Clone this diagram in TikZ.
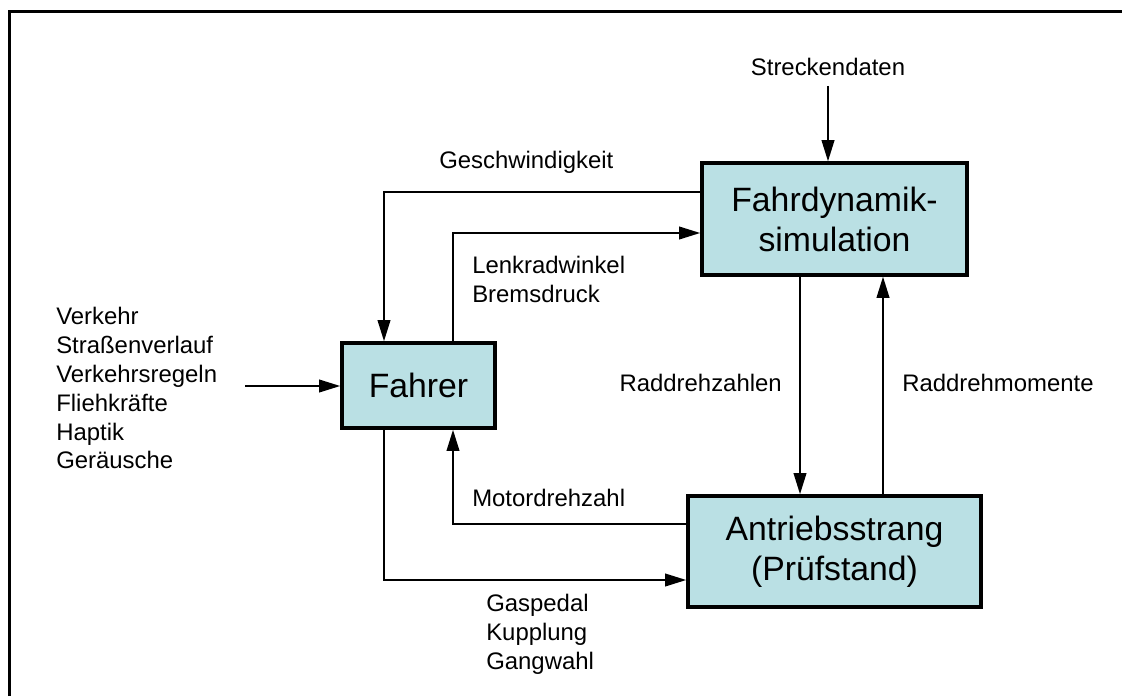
\documentclass[tikz,border=0pt]{standalone}
\usepackage{fontspec}
\setmainfont{Liberation Sans}
\usetikzlibrary{arrows.meta,calc}
\definecolor{boxcyan}{RGB}{186,224,228}
\tikzset{
  blockbox/.style={draw, line width=2.4pt, fill=boxcyan, align=center,
                   font=\fontsize{24}{28.5}\selectfont, inner sep=0pt},
  lbl/.style    ={font=\fontsize{17}{20.6}\selectfont, inner sep=0pt},
  conn/.style   ={line width=1.3pt},
  arr/.style    ={conn, -{Triangle[length=15pt,width=9pt]}},
  frame/.style  ={line width=2pt},
}
\begin{document}
\begin{tikzpicture}[x=0.025cm,y=-0.025cm]
  \useasboundingbox (0,0) rectangle (1122,696);
  \draw[frame] (9.5,696) -- (9.5,11.5) -- (1122,11.5);
  %% blocks
  \node[blockbox, minimum width=6.63cm, minimum height=2.8cm] (fds) at (834.5,219) {Fahrdynamik-\\simulation};
  \node[blockbox, minimum width=3.83cm, minimum height=2.13cm] (fahrer) at (418.5,385.5) {Fahrer};
  \node[blockbox, minimum width=7.33cm, minimum height=2.78cm] (antrieb) at (834.5,551.5) {Antriebsstrang\\(Prüfstand)};
  %% labels
  \node[lbl] (strecke) at (828,67) {Streckendaten};
  \node[lbl, anchor=west] (geschw) at (439,162) {Geschwindigkeit};
  \node[lbl, anchor=west, align=left] (lenk) at (472,279) {Lenkradwinkel\\Bremsdruck};
  \node[lbl, anchor=west, align=left] (umwelt) at (56,388) {Verkehr\\Straßenverlauf\\Verkehrsregeln\\Fliehkräfte\\Haptik\\Geräusche};
  \node[lbl, anchor=east] (drehz) at (782,383) {Raddrehzahlen};
  \node[lbl, anchor=west] (drehm) at (902,383) {Raddrehmomente};
  \node[lbl, anchor=west] (motor) at (472,498) {Motordrehzahl};
  \node[lbl, anchor=west, align=left] (pedal) at (486,634) {Gaspedal\\Kupplung\\Gangwahl};
  \coordinate (ein) at (245,386);
  %% connectors
  \draw[arr] ([yshift=-7pt]strecke.south) -- (strecke.south |- fds.north);
  \draw[arr] (fds.west |- 0,192) -| (fahrer.north -| 384,0);
  \draw[arr] (fahrer.north -| 453,0) |- (fds.west |- 0,233);
  \draw[arr] (ein) -- (fahrer.west |- ein);
  \draw[arr] (fds.south -| 800,0) -- (antrieb.north -| 800,0);
  \draw[arr] (antrieb.north -| 883,0) -- (fds.south -| 883,0);
  \draw[arr] (antrieb.west |- 0,524) -| (fahrer.south -| 453,0);
  \draw[arr] (fahrer.south -| 384,0) |- (antrieb.west |- 0,580);
\end{tikzpicture}
\end{document}
